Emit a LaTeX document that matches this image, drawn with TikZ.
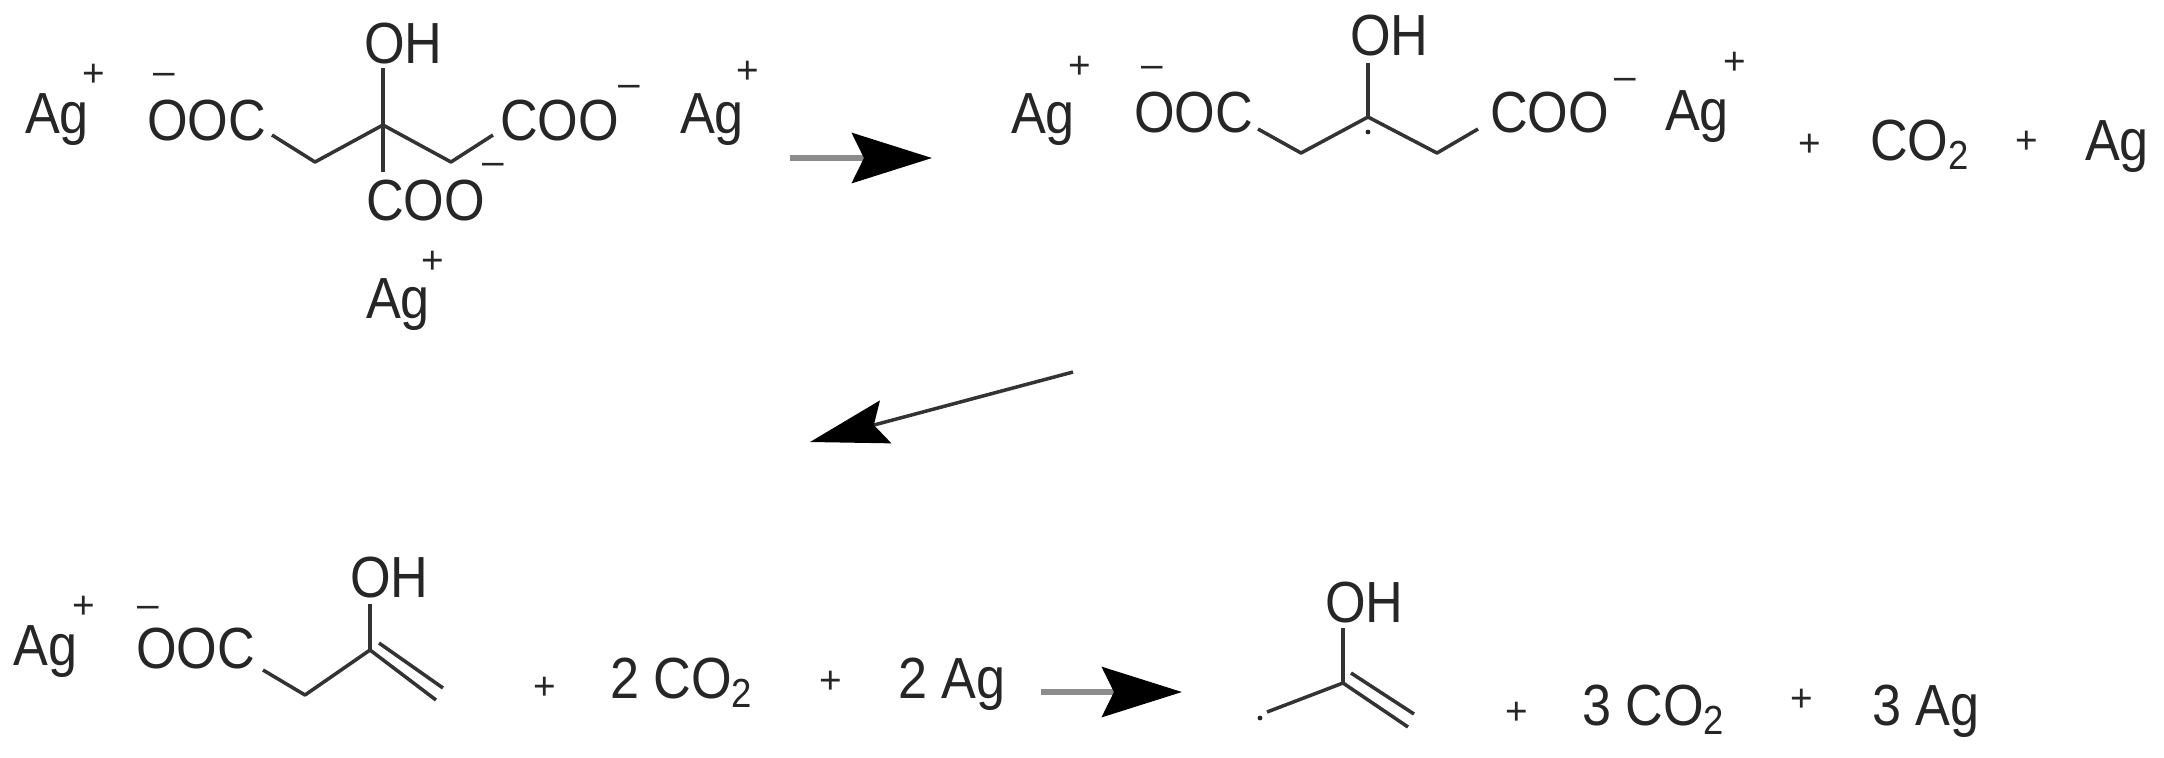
\documentclass[tikz,border=0pt]{standalone}
\usepackage{fontspec}
\setmainfont{Liberation Sans}
\usetikzlibrary{arrows.meta}
\begin{document}
\begin{tikzpicture}[x=0.01cm,y=-0.01cm,
  t/.style={anchor=base west,inner sep=0,outer sep=0,text=black!85,font=\fontsize{16.5}{16}\selectfont},
  chg/.style={inner sep=0,text=black!85,font=\fontsize{11}{11}\selectfont},
  bond/.style={draw=black!80,line width=1pt,line join=round},
  grayarrow/.style={draw=black!45,line width=1.6pt,-{Stealth[length=0.8cm,width=0.5cm,inset=0.12cm,fill=black,color=black]}},
  blackarrow/.style={draw=black!80,line width=1pt,-{Stealth[length=0.78cm,width=0.44cm,inset=0.12cm,fill=black,color=black]}}]
\useasboundingbox (0,0) rectangle (2164,757);
\newcommand{\sq}[1]{\scalebox{0.9}[1]{#1}}
% ---------- top left: silver citrate
\node[t] (ag1) at (25,133) {\sq{Ag}};
\node[chg] (p1) at (94,75) {+};
\node[chg] (m1) at (164,79) {\textendash};
\node[t] (ooc1) at (147,140) {\sq{OOC}};
\node[t] (oh1) at (364,63) {\sq{OH}};
\node[t] (coo1) at (500,140) {\sq{COO}};
\node[chg] (m2) at (629,91) {\textendash};
\node[t] (coo2) at (366,220) {\sq{COO}};
\node[chg] (m3) at (493,169) {\textendash};
\node[t] (ag2) at (366,318) {\sq{Ag}};
\node[chg] (p2) at (433,262) {+};
\node[t] (ag3) at (680,133) {\sq{Ag}};
\node[chg] (p3) at (748,72) {+};
\draw[bond] (272,135) -- (315,162) -- (383,125) -- (451,162) -- (493,135);
\draw[bond] (383,68) -- (383,172);
% arrow 1
\coordinate (a1s) at (790,158); \coordinate (a1e) at (932,158);
\draw[grayarrow] (a1s) -- (a1e);
% ---------- top right
\node[t] (ag4) at (1011,133) {\sq{Ag}};
\node[chg] (p4) at (1080,67) {+};
\node[chg] (m4) at (1152,72) {\textendash};
\node[t] (ooc2) at (1134,132) {\sq{OOC}};
\node[t] (oh2) at (1350,55) {\sq{OH}};
\node[t] (coo3) at (1490,132) {\sq{COO}};
\node[chg] (m5) at (1625,84) {\textendash};
\node[t] (ag5) at (1665,130) {\sq{Ag}};
\node[chg] (p5) at (1735,63) {+};
\draw[bond] (1258,129) -- (1301,153) -- (1368,117) -- (1437,153) -- (1478,129);
\draw[bond] (1368,63) -- (1368,117);
\fill[black!85] (1368,132) circle (2.4);
\node[chg] (p6) at (1810,145) {+};
\node[t] (co2a) at (1870,160) {\sq{CO\textsubscript{2}}};
\node[chg] (p7) at (2027,142) {+};
\node[t] (ag6) at (2085,160) {\sq{Ag}};
% arrow 2
\coordinate (a2s) at (1073,372); \coordinate (a2e) at (810,442);
\draw[blackarrow] (a2s) -- (a2e);
% ---------- bottom left
\node[t] (ag7) at (14,665) {\sq{Ag}};
\node[chg] (p8) at (84,607) {+};
\node[chg] (m6) at (148,612) {\textendash};
\node[t] (ooc3) at (136,668) {\sq{OOC}};
\node[t] (oh3) at (350,597) {\sq{OH}};
\draw[bond] (263,670) -- (305,695) -- (370,650) -- (436,700);
\draw[bond] (379,643) -- (443,688);
\draw[bond] (370,650) -- (370,604);
\node[chg] (p9) at (545,688) {+};
\node[t] (co2b) at (610,698) {\sq{2 CO\textsubscript{2}}};
\node[chg] (p10) at (831,682) {+};
\node[t] (ag8) at (898,698) {\sq{2 Ag}};
% arrow 3
\coordinate (a3s) at (1041,692); \coordinate (a3e) at (1182,692);
\draw[grayarrow] (a3s) -- (a3e);
% ---------- bottom right
\fill[black!85] (1260,718) circle (2.4);
\node[t] (oh4) at (1325,622) {\sq{OH}};
\draw[bond] (1267,712) -- (1343,683) -- (1408,727);
\draw[bond] (1351,673) -- (1414,714);
\draw[bond] (1343,683) -- (1343,628);
\node[chg] (p11) at (1517,713) {+};
\node[t] (co2c) at (1582,725) {\sq{3 CO\textsubscript{2}}};
\node[chg] (p12) at (1802,700) {+};
\node[t] (ag9) at (1872,725) {\sq{3 Ag}};
\end{tikzpicture}
\end{document}
